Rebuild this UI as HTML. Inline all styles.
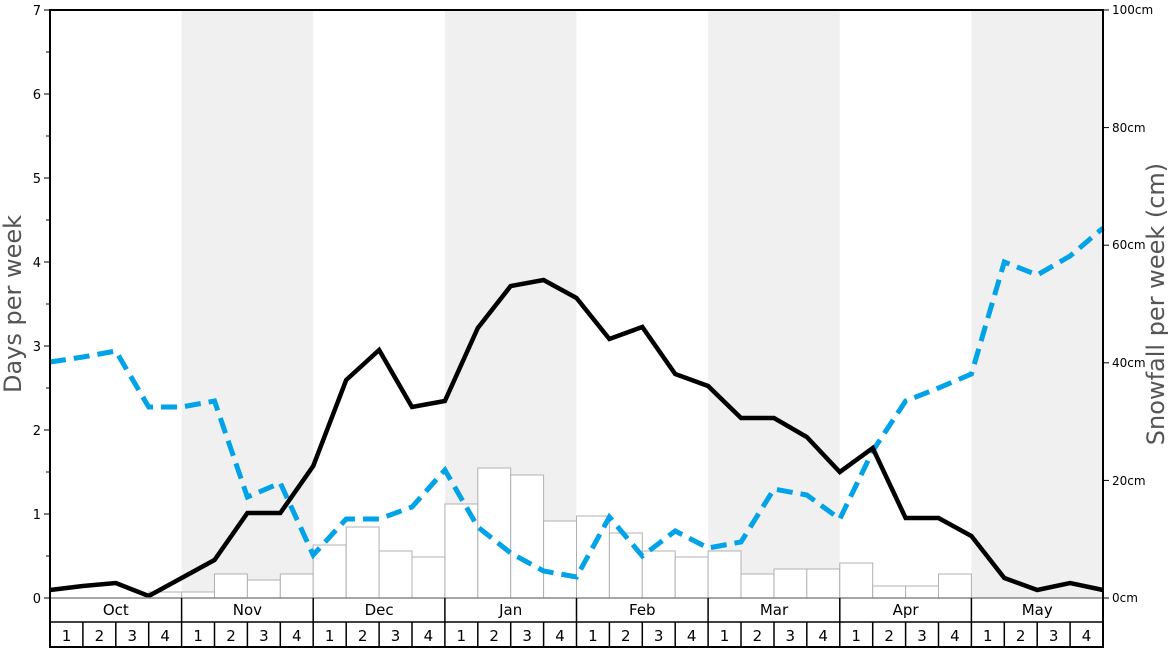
<!DOCTYPE html><html><head><meta charset="utf-8"><style>body{margin:0;background:#fff}svg{display:block;font-family:"DejaVu Sans","Liberation Sans",sans-serif}</style></head><body>
<svg width="1168" height="648" viewBox="0 0 1168 648" xmlns="http://www.w3.org/2000/svg">
<rect x="181.6" y="10" width="131.6" height="588" fill="#f0f0f0"/>
<rect x="444.9" y="10" width="131.6" height="588" fill="#f0f0f0"/>
<rect x="708.1" y="10" width="131.7" height="588" fill="#f0f0f0"/>
<rect x="971.4" y="10" width="131.6" height="588" fill="#f0f0f0"/>
<g fill="#fff" stroke="#b0b0b0" stroke-width="1">
<rect x="148.7" y="592" width="32.9" height="6"/>
<rect x="181.6" y="592" width="32.9" height="6"/>
<rect x="214.5" y="574" width="32.9" height="24"/>
<rect x="247.4" y="580" width="32.9" height="18"/>
<rect x="280.3" y="574" width="32.9" height="24"/>
<rect x="313.2" y="545" width="32.9" height="53"/>
<rect x="346.2" y="527" width="32.9" height="71"/>
<rect x="379.1" y="551" width="32.9" height="47"/>
<rect x="412" y="557" width="32.9" height="41"/>
<rect x="444.9" y="504" width="32.9" height="94"/>
<rect x="477.8" y="468" width="32.9" height="130"/>
<rect x="510.7" y="475" width="32.9" height="123"/>
<rect x="543.6" y="521" width="32.9" height="77"/>
<rect x="576.5" y="516" width="32.9" height="82"/>
<rect x="609.4" y="533" width="32.9" height="65"/>
<rect x="642.3" y="551" width="32.9" height="47"/>
<rect x="675.2" y="557" width="32.9" height="41"/>
<rect x="708.1" y="551" width="32.9" height="47"/>
<rect x="741" y="574" width="32.9" height="24"/>
<rect x="774" y="569" width="32.9" height="29"/>
<rect x="806.8" y="569" width="32.9" height="29"/>
<rect x="839.8" y="563" width="32.9" height="35"/>
<rect x="872.7" y="586" width="32.9" height="12"/>
<rect x="905.6" y="586" width="32.9" height="12"/>
<rect x="938.5" y="574" width="32.9" height="24"/>
</g>
<polyline fill="none" stroke="#00a2e8" stroke-width="5" stroke-dasharray="16,8" points="50,362 82.9,357 115.8,351 148.7,407 181.6,407 214.5,401 247.4,497 280.3,483 313.2,555 346.2,519 379.1,519 412,507 444.9,470 477.8,527 510.7,553 543.6,571 576.5,577 609.4,517 642.3,556 675.2,531 708.1,548 741,542 774,489 806.8,495 839.8,519 872.7,451 905.6,401 938.5,388 971.4,374 1004.3,262 1037.2,275 1070.1,256 1103,228"/>
<polyline fill="none" stroke="#000" stroke-width="4.5" stroke-linejoin="miter" points="50,590 82.9,586 115.8,583 148.7,596 181.6,578 214.5,560 247.4,513 280.3,513 313.2,466 346.2,380 379.1,350 412,407 444.9,401 477.8,328 510.7,286 543.6,280 576.5,298 609.4,339 642.3,327 675.2,374 708.1,386 741,418 774,418 806.8,437 839.8,472 872.7,448 905.6,518 938.5,518 971.4,536 1004.3,578 1037.2,590 1070.1,583 1103,590"/>
<line x1="50" y1="10" x2="1103" y2="10" stroke="#000" stroke-width="2"/>
<line x1="50" y1="598" x2="1103" y2="598" stroke="#888" stroke-width="1.5"/>
<line x1="50" y1="9" x2="50" y2="648" stroke="#000" stroke-width="2"/>
<line x1="1103" y1="9" x2="1103" y2="648" stroke="#000" stroke-width="2"/>
<line x1="50" y1="622" x2="1103" y2="622" stroke="#000" stroke-width="1.5"/>
<line x1="50" y1="647" x2="1103" y2="647" stroke="#000" stroke-width="2"/>
<g stroke="#000" stroke-width="1.5">
<line x1="181.6" y1="598" x2="181.6" y2="648"/><line x1="313.2" y1="598" x2="313.2" y2="648"/><line x1="444.9" y1="598" x2="444.9" y2="648"/><line x1="576.5" y1="598" x2="576.5" y2="648"/><line x1="708.1" y1="598" x2="708.1" y2="648"/><line x1="839.8" y1="598" x2="839.8" y2="648"/><line x1="971.4" y1="598" x2="971.4" y2="648"/>
<line x1="82.9" y1="622" x2="82.9" y2="648"/><line x1="115.8" y1="622" x2="115.8" y2="648"/><line x1="148.7" y1="622" x2="148.7" y2="648"/>
<line x1="214.5" y1="622" x2="214.5" y2="648"/><line x1="247.4" y1="622" x2="247.4" y2="648"/><line x1="280.3" y1="622" x2="280.3" y2="648"/>
<line x1="346.2" y1="622" x2="346.2" y2="648"/><line x1="379.1" y1="622" x2="379.1" y2="648"/><line x1="412" y1="622" x2="412" y2="648"/>
<line x1="477.8" y1="622" x2="477.8" y2="648"/><line x1="510.7" y1="622" x2="510.7" y2="648"/><line x1="543.6" y1="622" x2="543.6" y2="648"/>
<line x1="609.4" y1="622" x2="609.4" y2="648"/><line x1="642.3" y1="622" x2="642.3" y2="648"/><line x1="675.2" y1="622" x2="675.2" y2="648"/>
<line x1="741" y1="622" x2="741" y2="648"/><line x1="774" y1="622" x2="774" y2="648"/><line x1="806.8" y1="622" x2="806.8" y2="648"/>
<line x1="872.7" y1="622" x2="872.7" y2="648"/><line x1="905.6" y1="622" x2="905.6" y2="648"/><line x1="938.5" y1="622" x2="938.5" y2="648"/>
<line x1="1004.3" y1="622" x2="1004.3" y2="648"/><line x1="1037.2" y1="622" x2="1037.2" y2="648"/><line x1="1070.1" y1="622" x2="1070.1" y2="648"/>
</g>
<g font-size="15" text-anchor="middle" fill="#000">
<text x="115.8" y="615">Oct</text><text x="247.4" y="615">Nov</text><text x="379.1" y="615">Dec</text><text x="510.7" y="615">Jan</text><text x="642.3" y="615">Feb</text><text x="774" y="615">Mar</text><text x="905.6" y="615">Apr</text><text x="1037.2" y="615">May</text>
</g>
<g font-size="15" text-anchor="middle" fill="#000">
<text x="66.5" y="641">1</text><text x="99.4" y="641">2</text><text x="132.3" y="641">3</text><text x="165.2" y="641">4</text>
<text x="198.1" y="641">1</text><text x="231" y="641">2</text><text x="263.9" y="641">3</text><text x="296.8" y="641">4</text>
<text x="329.7" y="641">1</text><text x="362.6" y="641">2</text><text x="395.5" y="641">3</text><text x="428.4" y="641">4</text>
<text x="461.3" y="641">1</text><text x="494.2" y="641">2</text><text x="527.1" y="641">3</text><text x="560" y="641">4</text>
<text x="592.9" y="641">1</text><text x="625.8" y="641">2</text><text x="658.7" y="641">3</text><text x="691.6" y="641">4</text>
<text x="724.5" y="641">1</text><text x="757.4" y="641">2</text><text x="790.3" y="641">3</text><text x="823.2" y="641">4</text>
<text x="856.2" y="641">1</text><text x="889.1" y="641">2</text><text x="922" y="641">3</text><text x="954.9" y="641">4</text>
<text x="987.8" y="641">1</text><text x="1020.7" y="641">2</text><text x="1053.6" y="641">3</text><text x="1086.5" y="641">4</text>
</g>
<g stroke="#000" stroke-width="1">
<line x1="44" y1="10" x2="50" y2="10"/><line x1="44" y1="94" x2="50" y2="94"/><line x1="44" y1="178" x2="50" y2="178"/><line x1="44" y1="262" x2="50" y2="262"/><line x1="44" y1="346" x2="50" y2="346"/><line x1="44" y1="430" x2="50" y2="430"/><line x1="44" y1="514" x2="50" y2="514"/><line x1="44" y1="598" x2="50" y2="598"/>
<line x1="46" y1="52" x2="50" y2="52"/><line x1="46" y1="136" x2="50" y2="136"/><line x1="46" y1="220" x2="50" y2="220"/><line x1="46" y1="304" x2="50" y2="304"/><line x1="46" y1="388" x2="50" y2="388"/><line x1="46" y1="472" x2="50" y2="472"/><line x1="46" y1="556" x2="50" y2="556"/>
<line x1="1103" y1="10" x2="1109" y2="10"/><line x1="1103" y1="127.6" x2="1109" y2="127.6"/><line x1="1103" y1="245.2" x2="1109" y2="245.2"/><line x1="1103" y1="362.8" x2="1109" y2="362.8"/><line x1="1103" y1="480.4" x2="1109" y2="480.4"/><line x1="1103" y1="598" x2="1109" y2="598"/>
</g>
<g font-size="13" text-anchor="end" fill="#000">
<text x="41" y="15">7</text><text x="41" y="99">6</text><text x="41" y="183">5</text><text x="41" y="267">4</text><text x="41" y="351">3</text><text x="41" y="435">2</text><text x="41" y="519">1</text><text x="41" y="603">0</text>
</g>
<g font-size="12" fill="#000">
<text x="1112" y="14">100cm</text><text x="1112" y="132">80cm</text><text x="1112" y="249">60cm</text><text x="1112" y="367">40cm</text><text x="1112" y="485">20cm</text><text x="1112" y="602">0cm</text>
</g>
<text transform="translate(21,304) rotate(-90)" font-size="24" text-anchor="middle" fill="#555">Days per week</text>
<text transform="translate(1164,304) rotate(-90)" font-size="24" text-anchor="middle" fill="#555">Snowfall per week (cm)</text>
</svg>
</body></html>
